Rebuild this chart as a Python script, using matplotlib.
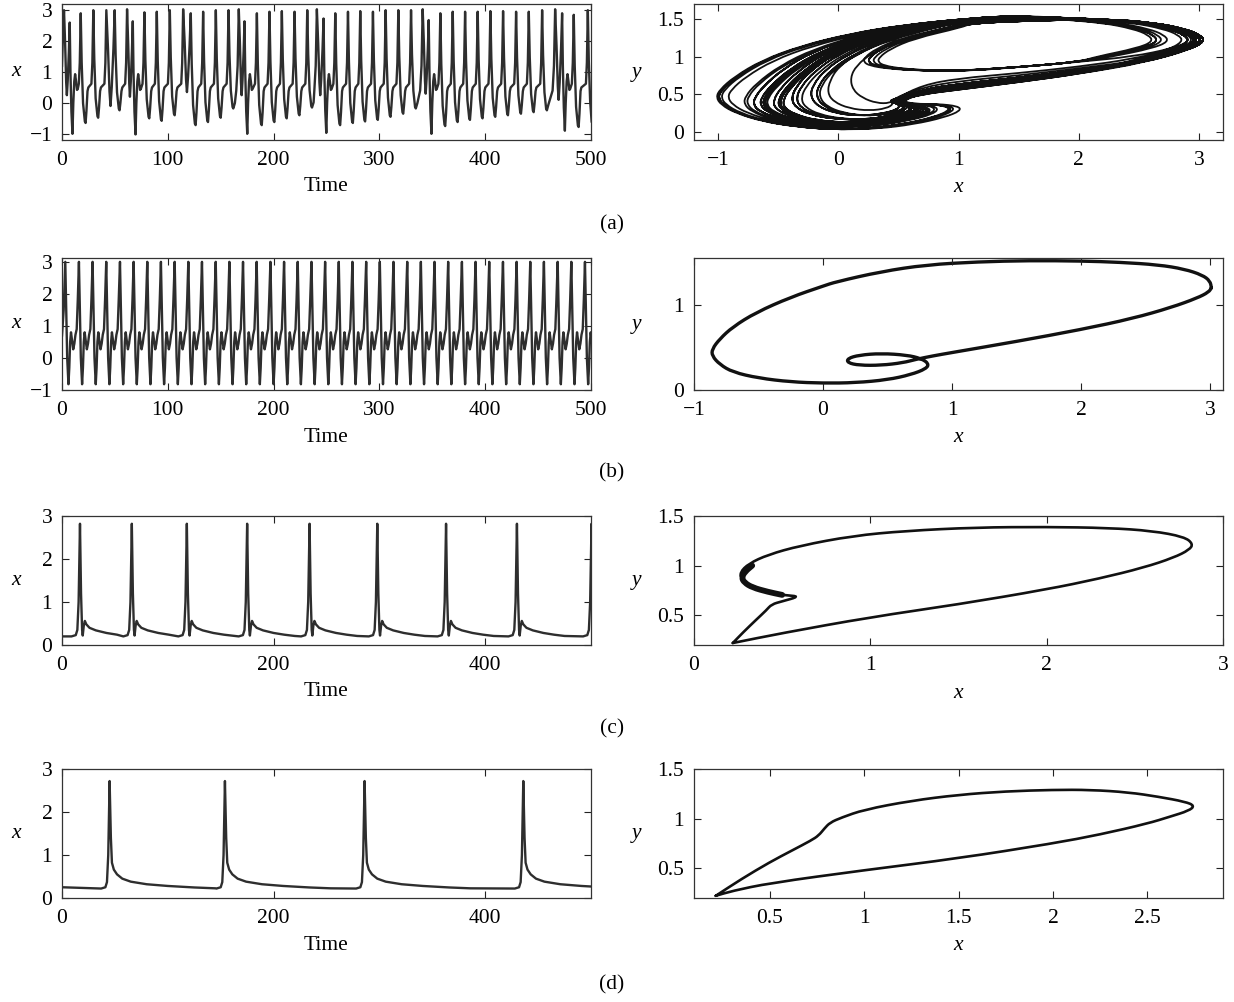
import numpy as np
import matplotlib
matplotlib.use("Agg")
import matplotlib.pyplot as plt
from matplotlib.ticker import FuncFormatter
from matplotlib.path import Path
from matplotlib.patches import PathPatch

plt.rcParams['font.family'] = ['Liberation Serif', 'DejaVu Serif']
plt.rcParams['axes.unicode_minus'] = True

# ---------------------------------------------------------------- data
# (a) chaotic spiking: peak times, peak heights, trough after each peak, and
# the kind of return to the next spike ('p' plateau, 'd' direct, 'b' bump)
a_peak_t = [1.9, 7.3, 17.7, 29.6, 41.9, 49.8, 61.5, 66.9, 77.9, 89.6, 101.9, 114.5,
            121.7, 133.4, 145.4, 157.4, 167.1, 172.5, 184.2, 196.1, 207.8, 219.8,
            231.8, 240.9, 247.2, 258.3, 270.3, 281.9, 293.9, 305.9, 317.9, 329.9,
            340.9, 346.6, 357.6, 369.3, 381.0, 392.9, 404.9, 416.9, 429.2, 441.2,
            453.8, 466.1, 472.7, 483.7, 497.0]
a_peak_x = [3.0, 2.6, 2.9, 3.0, 3.0, 3.0, 3.03, 2.64, 2.93, 2.95, 3.0, 3.03,
            2.9, 2.95, 3.0, 3.0, 3.03, 2.64, 2.9, 2.95, 2.97, 2.95,
            3.0, 3.03, 2.73, 2.9, 2.95, 2.97, 2.95, 3.0, 3.0, 3.0,
            3.03, 2.68, 2.9, 2.95, 2.95, 2.95, 2.97, 2.97, 2.95, 2.95,
            3.0, 3.03, 2.9, 2.85, 3.0]
a_trough_x = [0.25, -1.0, -0.65, -0.48, -0.1, -0.24, 0.2, -1.02, -0.5, -0.58, -0.4, 0.35,
              -0.72, -0.62, -0.48, -0.18, 0.25, -1.0, -0.72, -0.62, -0.5, -0.4,
              -0.15, 0.25, -0.97, -0.72, -0.65, -0.6, -0.55, -0.45, -0.35, -0.18,
              0.3, -1.0, -0.75, -0.62, -0.55, -0.5, -0.45, -0.4, -0.35, -0.3,
              -0.24, 0.1, -0.9, -0.78, -0.6]
a_kind = ['d', 'b', 'p', 'p', 'd', 'p', 'd', 'b', 'p', 'p', 'p', 'd',
          'p', 'p', 'p', 'd', 'd', 'b', 'p', 'p', 'p', 'p',
          'd', 'd', 'b', 'p', 'p', 'p', 'p', 'p', 'p', 'd',
          'd', 'b', 'p', 'p', 'p', 'p', 'p', 'p', 'p', 'p',
          'd', 'd', 'b', 'p', 'e']

# (a) phase plane: left-hand arcs of the attractor, by trough depth
arc_m = [-1.0, -0.8, -0.65, -0.5, -0.35, -0.2, -0.05, 0.1, 0.25]
arc_x = [
    [0.55, 0.1, -0.3, -0.62, -0.85, -0.97, -1.0, -0.96, -0.84, -0.62, -0.35, -0.05, 0.25, 0.55, 0.8, 0.94, 0.92, 0.75, 0.55, 0.45],
    [0.6, 0.15, -0.22, -0.5, -0.7, -0.79, -0.8, -0.74, -0.58, -0.32, -0.02, 0.28, 0.55, 0.74, 0.8, 0.7, 0.55, 0.46],
    [0.65, 0.2, -0.15, -0.4, -0.57, -0.64, -0.65, -0.6, -0.45, -0.2, 0.1, 0.38, 0.6, 0.72, 0.68, 0.55, 0.46],
    [0.7, 0.25, -0.07, -0.3, -0.44, -0.5, -0.49, -0.4, -0.22, 0.05, 0.32, 0.55, 0.66, 0.62, 0.52, 0.46],
    [0.75, 0.3, 0.0, -0.2, -0.31, -0.35, -0.32, -0.2, 0.0, 0.25, 0.47, 0.6, 0.58, 0.5, 0.46],
    [0.8, 0.38, 0.1, -0.08, -0.18, -0.2, -0.14, 0.0, 0.2, 0.4, 0.53, 0.54, 0.48],
    [0.85, 0.45, 0.2, 0.04, -0.03, -0.05, 0.0, 0.13, 0.3, 0.44, 0.5, 0.48],
    [0.9, 0.52, 0.28, 0.15, 0.1, 0.12, 0.2, 0.32, 0.43, 0.48],
    [0.95, 0.55, 0.35, 0.26, 0.25, 0.3, 0.45, 0.7, 1.0],
]
arc_y = [
    [1.42, 1.3, 1.14, 0.95, 0.73, 0.56, 0.46, 0.36, 0.25, 0.14, 0.07, 0.03, 0.04, 0.1, 0.19, 0.28, 0.34, 0.37, 0.37, 0.41],
    [1.42, 1.28, 1.1, 0.88, 0.64, 0.47, 0.37, 0.27, 0.17, 0.09, 0.06, 0.08, 0.15, 0.23, 0.31, 0.36, 0.37, 0.41],
    [1.42, 1.27, 1.07, 0.84, 0.6, 0.45, 0.36, 0.27, 0.18, 0.11, 0.09, 0.12, 0.19, 0.27, 0.33, 0.37, 0.41],
    [1.41, 1.26, 1.05, 0.8, 0.58, 0.42, 0.32, 0.23, 0.15, 0.12, 0.14, 0.2, 0.28, 0.34, 0.38, 0.42],
    [1.41, 1.24, 1.03, 0.8, 0.6, 0.45, 0.33, 0.23, 0.17, 0.16, 0.21, 0.28, 0.34, 0.39, 0.42],
    [1.4, 1.22, 1.02, 0.82, 0.62, 0.47, 0.34, 0.25, 0.21, 0.24, 0.3, 0.36, 0.42],
    [1.4, 1.22, 1.04, 0.86, 0.68, 0.52, 0.4, 0.31, 0.28, 0.31, 0.37, 0.43],
    [1.39, 1.22, 1.05, 0.88, 0.72, 0.56, 0.45, 0.38, 0.38, 0.44],
    [1.39, 1.24, 1.1, 0.99, 0.93, 0.88, 0.84, 0.815, 0.81],
]
arc_top = [1.545, 1.54, 1.535, 1.53, 1.525, 1.515, 1.505, 1.495, 1.475]
arc_lift = [0.05, 0.0, 0.08, 0.12, 0.18, 0.3, 0.45, 0.6, 1.0]
# return branch towards the spike tip (lowest and highest strands)
ret_x = [1.0, 1.5, 2.0]
ret_lo = [0.56, 0.66, 0.77]
ret_hi = [0.81, 0.86, 0.93]

# (b) periodic bursting: spike times
b_peak_t = [3.1, 16.0, 28.9, 41.8, 54.8, 67.7, 80.6, 93.5, 106.5, 119.4, 132.3, 145.3,
            158.2, 171.1, 184.0, 197.0, 209.9, 222.8, 235.8, 248.7, 261.6, 274.5,
            287.5, 300.4, 313.3, 326.3, 339.2, 352.1, 365.0, 378.0, 390.9, 403.8,
            416.8, 429.7, 442.6, 455.5, 468.5, 481.4, 494.3]
b_peak_x = 3.0
b_trough_x = -0.82
b_loop_x = [3.01, 3.0, 2.94, 2.8, 2.6, 2.3, 2.0, 1.6, 1.2, 0.8, 0.45, 0.1, 0.0, -0.25,
            -0.52, -0.7, -0.8, -0.86, -0.86, -0.8, -0.7, -0.5, -0.25, 0.0, 0.25, 0.5,
            0.68, 0.8, 0.82, 0.76, 0.65, 0.45, 0.28, 0.19, 0.19, 0.28, 0.45, 0.62, 0.72,
            0.85, 1.0, 1.5, 2.0, 2.4, 2.7, 2.9, 2.99, 3.01]
b_loop_y = [1.2, 1.28, 1.35, 1.42, 1.47, 1.5, 1.515, 1.52, 1.505, 1.47, 1.39, 1.27, 1.22, 1.09,
            0.91, 0.74, 0.6, 0.48, 0.4, 0.3, 0.21, 0.14, 0.095, 0.08, 0.085, 0.12,
            0.18, 0.25, 0.31, 0.37, 0.41, 0.43, 0.41, 0.37, 0.32, 0.29, 0.29, 0.32, 0.36,
            0.4, 0.44, 0.57, 0.71, 0.84, 0.97, 1.08, 1.15, 1.2]

# (c) slow spiking
c_peak_t = [17, 66, 118, 175, 234, 298, 363, 430, 500.5]
c_peak_x = 2.82
c_loop_x = [0.22, 0.5, 1.0, 1.5, 2.0, 2.3, 2.55, 2.72, 2.81, 2.83, 2.78, 2.6, 2.35, 2.0,
            1.6, 1.2, 0.9, 0.6, 0.42, 0.31, 0.26, 0.27, 0.33, 0.43, 0.52, 0.6, 0.5,
            0.44, 0.41, 0.35, 0.28, 0.22]
c_loop_y = [0.22, 0.32, 0.48, 0.61, 0.76, 0.87, 0.98, 1.08, 1.16, 1.22, 1.29, 1.35, 1.38, 1.39,
            1.385, 1.35, 1.3, 1.2, 1.11, 1.02, 0.93, 0.86, 0.79, 0.73, 0.7, 0.69, 0.64,
            0.61, 0.55, 0.45, 0.33, 0.22]
c_band_x = [0.33, 0.29, 0.27, 0.285, 0.33, 0.42, 0.5]
c_band_y = [1.0, 0.94, 0.88, 0.83, 0.78, 0.735, 0.705]

# (d) slower spiking
d_peak_t = [45, 154, 286, 436]
d_peak_x = 2.72
d_loop_x = [0.215, 0.35, 0.5, 0.62, 0.72, 0.76, 0.79, 0.82, 0.88, 1.0, 1.25, 1.5, 1.75, 2.0,
            2.2, 2.4, 2.56, 2.7, 2.75, 2.72, 2.62, 2.5, 2.25, 2.0, 1.5, 1.0, 0.5, 0.3, 0.215]
d_loop_y = [0.222, 0.39, 0.56, 0.68, 0.78, 0.83, 0.9, 0.96, 1.01, 1.09, 1.18, 1.24, 1.275, 1.29,
            1.29, 1.265, 1.22, 1.17, 1.13, 1.08, 1.02, 0.95, 0.84, 0.75, 0.6, 0.48, 0.35, 0.27, 0.222]


# ---------------------------------------------------------------- builders
def series_a():
    t, x = [0.0, 0.9], [1.2, 2.2]
    n = len(a_peak_t)
    for i in range(n):
        tp, p, m, kind = a_peak_t[i], a_peak_x[i], a_trough_x[i], a_kind[i]
        t.append(tp); x.append(p)
        if kind == 'e':
            t += [tp + 0.9, tp + 2.2, tp + 3.6]
            x += [m + 0.55 * (p - m), m + 0.18 * (p - m), m]
            break
        tn, pn = a_peak_t[i + 1], a_peak_x[i + 1]
        gap = tn - tp
        if kind == 'p':
            tt = tp + 4.6
            pts = [(tp + 0.9, m + 0.55 * (p - m)), (tp + 2.2, m + 0.18 * (p - m)),
                   (tt - 0.7, m + 0.05), (tt, m), (tt + 0.8, m + 0.35 * (0.45 - m)),
                   (tt + 1.8, 0.38), (tt + 2.6, 0.5), (tn - 1.8, 0.62), (tn - 0.9, 1.3)]
        elif kind == 'b':
            tt = tp + 2.6
            pts = [(tp + 0.7, m + 0.55 * (p - m)), (tp + 1.6, m + 0.2 * (p - m)), (tt, m),
                   (tt + 0.8, 0.0), (tt + 1.7, 0.7), (tt + 2.5, 0.93), (tt + 3.4, 0.7),
                   (tt + 4.3, 0.42), (tt + 5.0, 0.45), (tn - 1.8, 0.62), (tn - 0.9, 1.3)]
        elif gap < 8:
            tt = tp + 0.5 * gap
            pts = [(tp + 0.2 * gap, m + 0.6 * (p - m)), (tp + 0.38 * gap, m + 0.15 * (p - m)),
                   (tt, m), (tn - 0.35 * gap, m + 0.2 * (pn - m)),
                   (tn - 0.15 * gap, m + 0.6 * (pn - m))]
        else:
            tt = tp + 4.5
            pts = [(tp + 0.9, m + 0.55 * (p - m)), (tp + 2.2, m + 0.18 * (p - m)),
                   (tt - 0.7, m + 0.05), (tt, m), (tt + 1.5, m + 0.3 * (0.4 - m)),
                   (tn - 2.4, 0.4), (tn - 1.1, 1.2)]
        for a, b in pts:
            t.append(a); x.append(b)
    return t, x


def phase_a():
    px, py = [], []
    n = len(a_peak_t)
    for i in range(n - 1):
        p, m, pn = a_peak_x[i], a_trough_x[i], a_peak_x[i + 1]
        k = int(np.argmin([abs(m - v) for v in arc_m]))
        d = 0.8 * (m - arc_m[k])
        ty, lift = arc_top[k], arc_lift[k]
        # upper branch from the spike tip
        px += [p + 0.02, p - 0.02, p - 0.15, p - 0.4, p - 0.8, 1.5, 1.1]
        py += [1.2, 1.29, 1.37, 1.45, 1.5, ty, ty - 0.035]
        # left-hand arc
        px += [v + d for v in arc_x[k]]
        py += list(arc_y[k])
        ex = arc_x[k][-1] + d
        # return branch
        if ex < 0.7:
            px.append(0.7); py.append(0.5 + 0.2 * lift)
        for xr, lo, hi in zip(ret_x, ret_lo, ret_hi):
            if xr > ex:
                px.append(xr); py.append(lo + lift * (hi - lo))
        px += [pn - 0.45, pn - 0.12]
        py += [0.92 + 0.08 * lift, 1.08 + 0.03 * lift]
    px.append(a_peak_x[-1] + 0.02); py.append(1.2)
    return px, py


def series_b():
    t, x = [0.0, 1.6], [0.7, 1.5]
    for tp in b_peak_t:
        p, m = b_peak_x, b_trough_x
        seg = [(tp, p), (tp + 0.8, 1.6), (tp + 1.8, 0.0), (tp + 3.0, m), (tp + 3.8, -0.3),
               (tp + 4.6, 0.5), (tp + 5.4, 0.8), (tp + 6.4, 0.55), (tp + 7.5, 0.27),
               (tp + 8.6, 0.45), (tp + 9.6, 0.72), (tp + 10.8, 0.9), (tp + 11.8, 1.8)]
        for a, b in seg:
            t.append(a); x.append(b)
    return t, x


def series_slow(peaks, height, decay, start, base):
    t, x = [0.0], [start]
    prev = None
    for tn in peaks:
        if prev is not None:
            for dt, v in decay:
                if prev + dt < tn - 8:
                    t.append(prev + dt); x.append(v)
        t += [tn - 8, tn - 4, tn - 2.5, tn - 1.3]
        x += [base, base + 0.03, base + 0.15, 1.0]
        t.append(tn); x.append(height)
        prev = tn
    for dt, v in decay:
        t.append(prev + dt); x.append(v)
    return t, x


c_decay = [(1.0, 1.2), (2.0, 0.35), (2.6, 0.22), (3.6, 0.45), (4.6, 0.56), (6.0, 0.48),
           (9.0, 0.4), (15.0, 0.34), (25.0, 0.28), (35.0, 0.24), (45.0, 0.21)]
d_decay = [(1.2, 1.4), (2.2, 0.82), (4.0, 0.66), (7.0, 0.55), (12.0, 0.45), (20.0, 0.38),
           (35.0, 0.32), (55.0, 0.28), (80.0, 0.245), (100.0, 0.225)]


def smooth_curve(ax, xs, ys, **kw):
    """Quadratic Bezier path through the midpoints, with the points as controls."""
    pts = np.column_stack([xs, ys]).astype(float)
    mids = 0.5 * (pts[:-1] + pts[1:])
    verts = [pts[0], mids[0]]
    codes = [Path.MOVETO, Path.LINETO]
    for i in range(1, len(pts) - 1):
        verts += [pts[i], mids[i]]
        codes += [Path.CURVE3, Path.CURVE3]
    verts.append(pts[-1]); codes.append(Path.LINETO)
    ax.add_patch(PathPatch(Path(verts, codes), fill=False, capstyle='round',
                           joinstyle='round', **kw))


# ---------------------------------------------------------------- figure
W, H = 1234, 1002
fig = plt.figure(figsize=(W / 100, H / 100), dpi=100)
INK = '#2e2e2e'
FS = 15.5


def rect(x0, x1, top, bot):
    return [x0 / W, 1 - bot / H, (x1 - x0) / W, (bot - top) / H]


def fmt(v, _):
    return f'{v:g}'.replace('-', '\u2212')


def style(ax):
    ax.tick_params(direction='in', top=True, right=True, length=5, width=0.8,
                   labelsize=FS, colors='#222222', labelcolor='black')
    ax.tick_params(axis='x', pad=8)
    ax.tick_params(axis='y', pad=7)
    for s in ax.spines.values():
        s.set_linewidth(0.9)
        s.set_color('#333333')
    ax.xaxis.set_major_formatter(FuncFormatter(fmt))
    ax.yaxis.set_major_formatter(FuncFormatter(fmt))


def ftext(px, py, s, **kw):
    fig.text(px / W, 1 - py / H, s, ha='center', va='center', fontsize=FS, **kw)


LX0, LX1 = 62, 591
RX0, RX1 = 694, 1223
rows = [(4, 140), (258, 390), (516, 645), (769, 898)]

# (a)
ax = fig.add_axes(rect(LX0, LX1, *rows[0]))
t, x = series_a()
ax.plot(t, x, color=INK, lw=1.7, solid_joinstyle='round')
ax.set_xlim(0, 500); ax.set_ylim(-1.2, 3.2)
ax.set_xticks([0, 100, 200, 300, 400, 500]); ax.set_yticks([-1, 0, 1, 2, 3])
style(ax)

ax = fig.add_axes(rect(RX0, RX1, *rows[0]))
px, py = phase_a()
smooth_curve(ax, px, py, ec='#111111', lw=1.3)
ax.set_xlim(-1.2, 3.2); ax.set_ylim(-0.11, 1.7)
ax.set_xticks([-1, 0, 1, 2, 3]); ax.set_yticks([0, 0.5, 1, 1.5])
style(ax)

# (b)
ax = fig.add_axes(rect(LX0, LX1, *rows[1]))
t, x = series_b()
ax.plot(t, x, color=INK, lw=1.7, solid_joinstyle='round')
ax.set_xlim(0, 500); ax.set_ylim(-1, 3.12)
ax.set_xticks([0, 100, 200, 300, 400, 500]); ax.set_yticks([-1, 0, 1, 2, 3])
style(ax)

ax = fig.add_axes(rect(RX0, RX1, *rows[1]))
smooth_curve(ax, b_loop_x, b_loop_y, ec='#111111', lw=2.4)
ax.set_xlim(-1, 3.1); ax.set_ylim(0, 1.55)
ax.set_xticks([-1, 0, 1, 2, 3]); ax.set_yticks([0, 1])
style(ax)

# (c)
ax = fig.add_axes(rect(LX0, LX1, *rows[2]))
t, x = series_slow(c_peak_t, c_peak_x, c_decay, 0.2, 0.2)
ax.plot(t, x, color=INK, lw=1.7, solid_joinstyle='round')
ax.set_xlim(0, 500); ax.set_ylim(0, 3)
ax.set_xticks([0, 200, 400]); ax.set_yticks([0, 1, 2, 3])
style(ax)

ax = fig.add_axes(rect(RX0, RX1, *rows[2]))
smooth_curve(ax, c_loop_x, c_loop_y, ec='#111111', lw=1.9)
smooth_curve(ax, c_band_x, c_band_y, ec='#111111', lw=4.2)
ax.set_xlim(0, 3); ax.set_ylim(0.2, 1.5)
ax.set_xticks([0, 1, 2, 3]); ax.set_yticks([0.5, 1, 1.5])
style(ax)

# (d)
ax = fig.add_axes(rect(LX0, LX1, *rows[3]))
t, x = series_slow(d_peak_t, d_peak_x, d_decay, 0.25, 0.22)
ax.plot(t, x, color=INK, lw=1.7, solid_joinstyle='round')
ax.set_xlim(0, 500); ax.set_ylim(0, 3)
ax.set_xticks([0, 200, 400]); ax.set_yticks([0, 1, 2, 3])
style(ax)

ax = fig.add_axes(rect(RX0, RX1, *rows[3]))
smooth_curve(ax, d_loop_x, d_loop_y, ec='#111111', lw=1.9)
ax.set_xlim(0.1, 2.9); ax.set_ylim(0.2, 1.5)
ax.set_xticks([0.5, 1, 1.5, 2, 2.5]); ax.set_yticks([0.5, 1, 1.5])
style(ax)

# axis titles and panel tags
for (top, bot), tag, ly in zip(rows, ['(a)', '(b)', '(c)', '(d)'], [225, 473, 729, 985]):
    mid = 0.5 * (top + bot)
    ftext(16, mid, 'x', fontstyle='italic')
    ftext(637, mid, 'y', fontstyle='italic')
    ftext(326, bot + 47, 'Time')
    ftext(958, bot + 48, 'x', fontstyle='italic')
    ftext(612, ly, tag)

fig.savefig('out.png', dpi=100)
